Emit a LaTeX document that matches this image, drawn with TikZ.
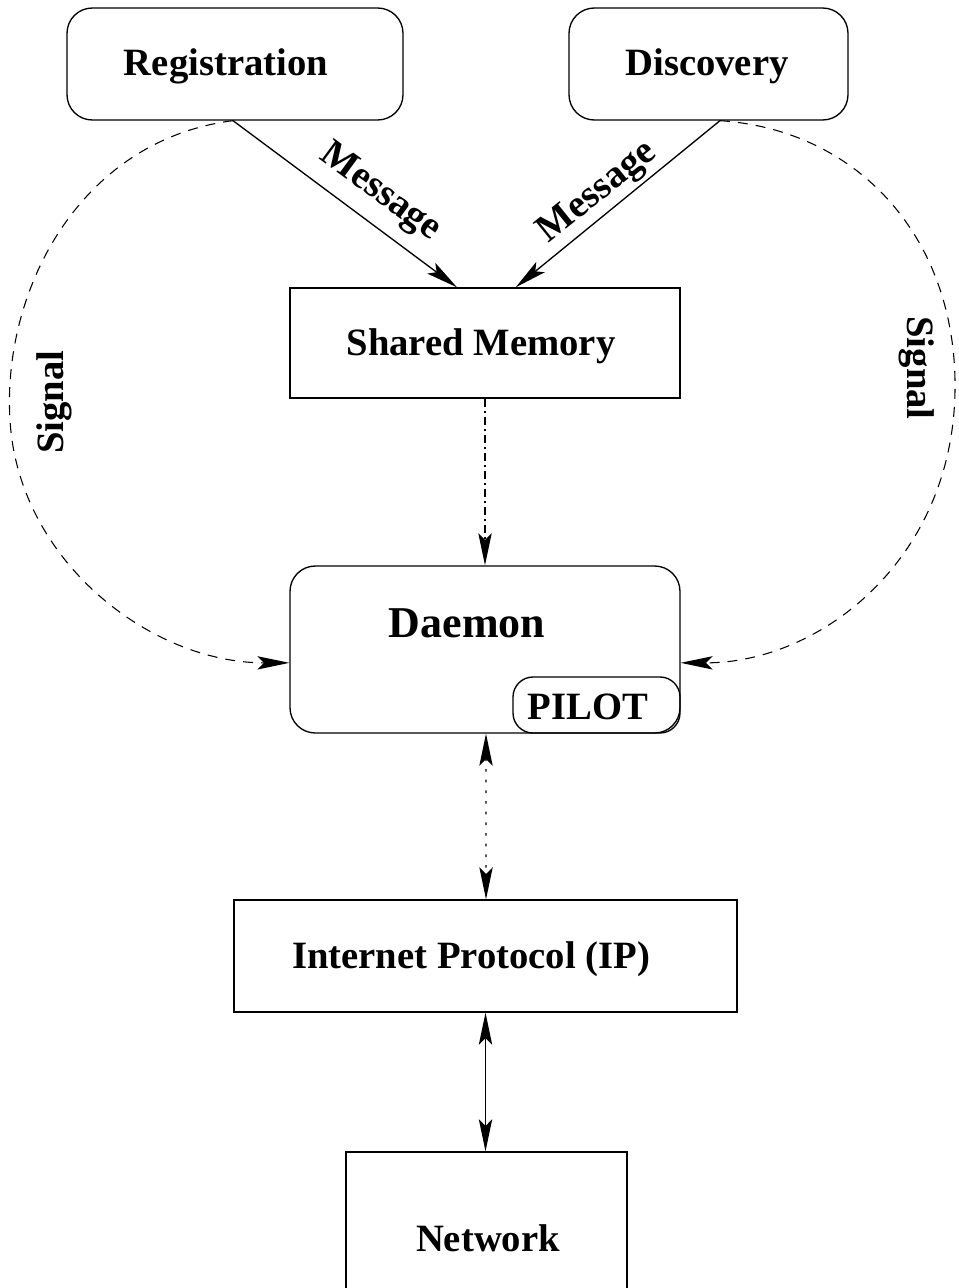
\documentclass[tikz,border=0pt]{standalone}
\usepackage{fontspec}
\setmainfont{Liberation Serif}
\usetikzlibrary{arrows.meta,calc}
\begin{document}
\begin{tikzpicture}[x=0.75pt,y=-0.75pt,
  txt/.style={font=\fontsize{29}{34}\selectfont\bfseries},
  rbox/.style={draw,line width=1pt,rounded corners=19pt,inner sep=0pt},
  sbox/.style={draw,line width=1pt,inner sep=0pt},
  tip/.style={-{Stealth[length=24pt,width=10pt,inset=5pt]}},
  tips/.style={{Stealth[length=24pt,width=10pt,inset=5pt]}-{Stealth[length=24pt,width=10pt,inset=5pt]}},
  conn/.style={line width=1pt},
  sig/.style={line width=0.8pt,dash pattern=on 7.5pt off 6pt}
]
\clip (0,0) rectangle (958,1288);
\node[rbox,minimum width=252pt,minimum height=84pt] (reg) at (235,64) {};
\node[txt] (regt) at (226,66) {Registration};
\node[rbox,minimum width=209.25pt,minimum height=84pt] (disc) at (708.5,64) {};
\node[txt] (disct) at (707,66) {Discovery};
\node[sbox,minimum width=292.5pt,minimum height=82.5pt] (shm) at (485,343) {};
\node[txt] (shmt) at (481,346) {Shared Memory};
\node[rbox,minimum width=292.5pt,minimum height=125.25pt] (dae) at (485,649.5) {};
\node[font=\fontsize{33}{38}\selectfont\bfseries] (daelbl) at (467,623) {Daemon};
\node[rbox,rounded corners=15pt,minimum width=125.25pt,minimum height=42pt] (pilot) at (596.5,705) {};
\node[txt] (pilott) at (588,707) {PILOT};
\node[sbox,minimum width=377.25pt,minimum height=84pt] (ip) at (485.5,956) {};
\node[txt] (ipt) at (471,959) {Internet Protocol (IP)};
\node[sbox,minimum width=210.75pt,minimum height=127.5pt] (net) at (486.5,1237) {};
\node[txt] (nett) at (488,1238) {Network};

% message arrows
\draw[conn,tip] ([xshift=-1.5pt]reg.south) -- ([xshift=-21pt]shm.north);
\draw[conn,tip] ([xshift=8.6pt]disc.south) -- ([xshift=23pt]shm.north);
\node[txt,rotate=-36.4] (m1) at (380,193) {Message};
\node[txt,rotate=38.9] (m2) at (598,193) {Message};

% shared memory -> daemon
\draw[conn,tip,dash pattern=on 6pt off 3pt on 1.5pt off 3pt] (shm.south) -- (dae.north);
% daemon <-> IP
\draw[conn,tips,dash pattern=on 2pt off 6pt] ([xshift=0.75pt]dae.south) -- ([xshift=0.4pt]ip.north);
% IP <-> Network
\draw[conn,tips] (ip.south) -- (ip.south |- net.north);

% signal curves
\draw[sig,tip] ([xshift=-1.5pt]reg.south) .. controls (80,140) and (2,290) .. (10,420)
  .. controls (18,560) and (150,663) .. ([yshift=-10pt]dae.west);
\draw[sig,tip] ([xshift=8.6pt]disc.south) .. controls (860,130) and (957,240) .. (955,390)
  .. controls (953,560) and (820,663) .. ([yshift=-10pt]dae.east);
\node[txt,rotate=90] (s1) at (54,402) {Signal};
\node[txt,rotate=-90] (s2) at (917,368) {Signal};
\end{tikzpicture}
\end{document}
